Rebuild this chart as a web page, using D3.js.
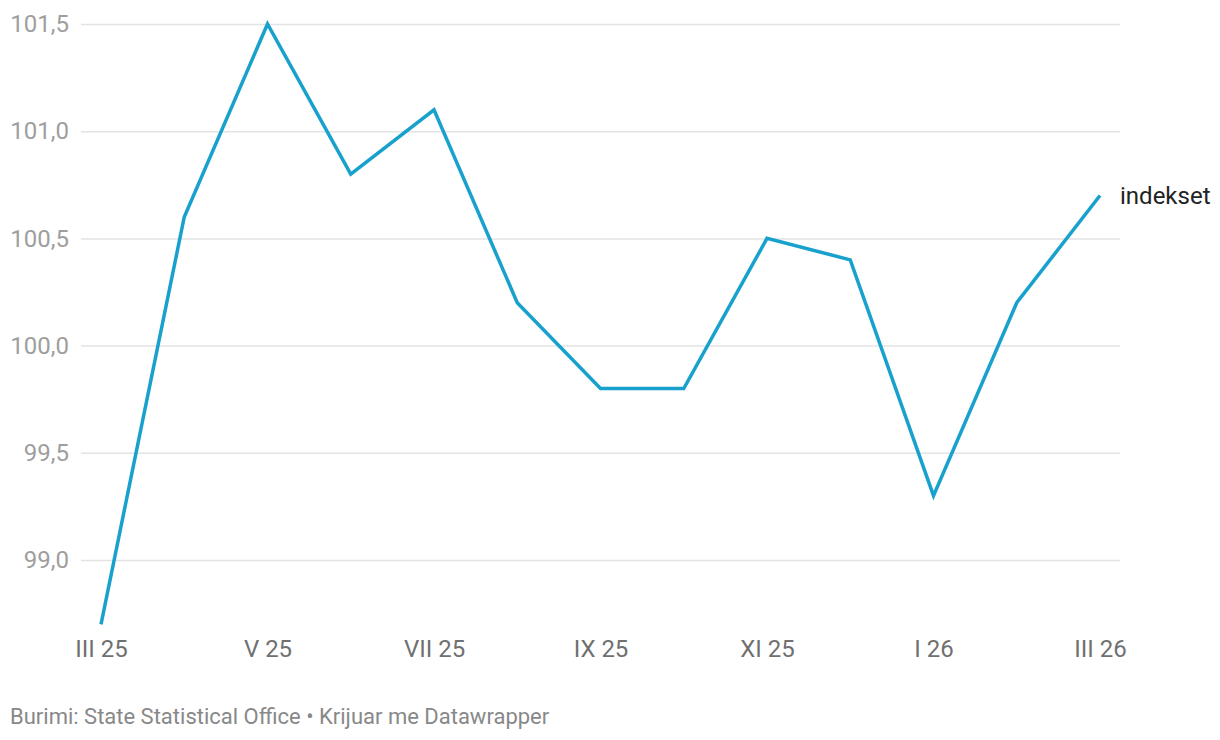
<!DOCTYPE html>
<html>
<head>
<meta charset="utf-8">
<script src="https://cdn.jsdelivr.net/npm/d3@7"></script>
<style>
  body { margin: 0; background: #fff; font-family: Roboto, sans-serif; }
</style>
</head>
<body>
<div id="chart"></div>
<script>
// data
var months = ["III 25", "IV 25", "V 25", "VI 25", "VII 25", "VIII 25", "IX 25",
              "X 25", "XI 25", "XII 25", "I 26", "II 26", "III 26"];
var values = [98.7, 100.6, 101.5, 100.8, 101.1, 100.2, 99.8, 99.8, 100.5, 100.4, 99.3, 100.2, 100.7];
var yTicks = [99.0, 99.5, 100.0, 100.5, 101.0, 101.5];
var xTickLabels = ["III 25", "V 25", "VII 25", "IX 25", "XI 25", "I 26", "III 26"];
var seriesName = "indekset";
var source = "Burimi: State Statistical Office • Krijuar me Datawrapper";

var W = 1220, H = 740;
var svg = d3.select("#chart").append("svg")
    .attr("width", W).attr("height", H);

var x = d3.scalePoint()
    .domain(months)
    .range([101, 1100]);

var y = d3.scaleLinear()
    .domain([99.0, 101.5])
    .range([560, 24]);

var fmt = function(d) { return d3.format(".1f")(d).replace(".", ","); };

// grid + y labels
var yAxis = svg.append("g")
    .attr("transform", "translate(81,0)")
    .call(d3.axisLeft(y).tickValues(yTicks).tickSize(-1039).tickFormat(fmt));
yAxis.select(".domain").remove();
yAxis.selectAll(".tick line").attr("stroke", "#e3e3e3").attr("stroke-width", 1.5);
yAxis.selectAll(".tick text")
    .attr("x", -12)
    .attr("fill", "#9e9e9e")
    .style("font-family", "Roboto, sans-serif")
    .style("font-size", "24px");

// x labels
var xAxis = svg.append("g")
    .attr("transform", "translate(0,637)")
    .call(d3.axisBottom(x).tickValues(xTickLabels).tickSize(0));
xAxis.select(".domain").remove();
xAxis.selectAll(".tick text")
    .attr("dy", "0.71em")
    .attr("fill", "#707070")
    .style("font-family", "Roboto, sans-serif")
    .style("font-size", "24px");

// line
svg.append("path")
    .datum(values)
    .attr("fill", "none")
    .attr("stroke", "#18a1cd")
    .attr("stroke-width", 3.5)
    .attr("stroke-linejoin", "miter")
    .attr("d", d3.line()
        .x(function(d, i) { return x(months[i]); })
        .y(function(d) { return y(d); }));

// series label
var last = values.length - 1;
svg.append("text")
    .attr("x", x(months[last]) + 20)
    .attr("y", y(values[last]))
    .attr("dy", "0.35em")
    .attr("fill", "#222")
    .style("font-family", "Roboto, sans-serif")
    .style("font-size", "24px")
    .text(seriesName);

// footer
svg.append("text")
    .attr("x", 10)
    .attr("y", 724)
    .attr("fill", "#888")
    .style("font-family", "Roboto, sans-serif")
    .style("font-size", "22px")
    .text(source);
</script>
</body>
</html>
